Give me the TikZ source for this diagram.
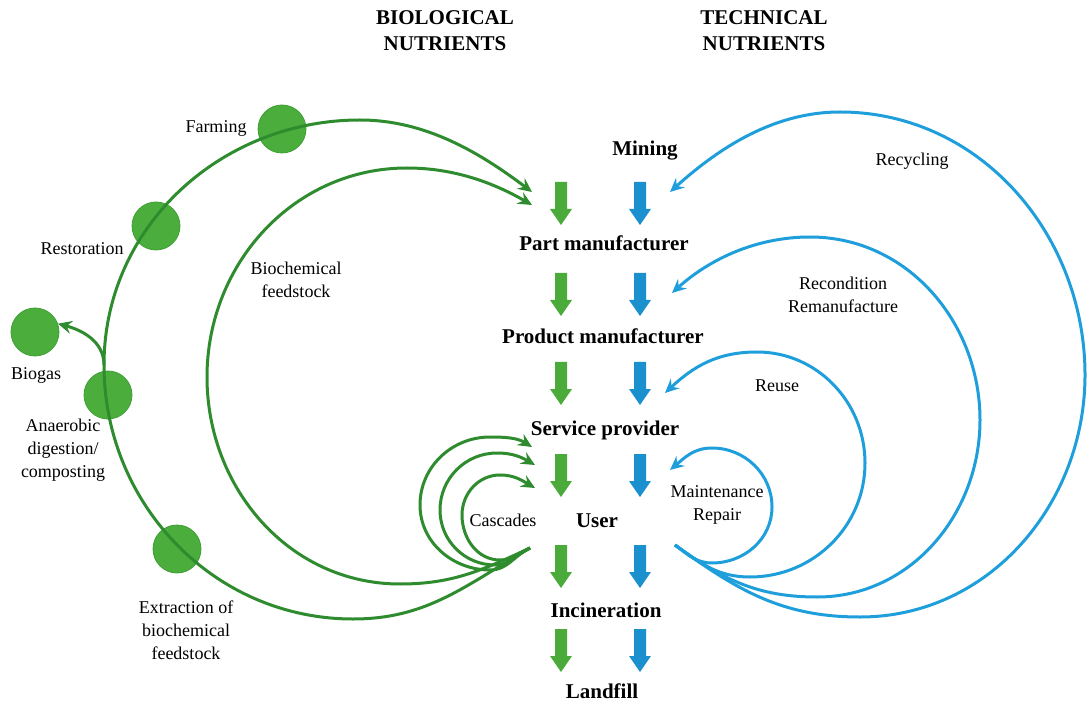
\documentclass[tikz,border=0pt]{standalone}
\usepackage{fontspec}
\setmainfont{Liberation Serif}
\usetikzlibrary{arrows.meta}
\definecolor{gline}{HTML}{2E8B2E}
\definecolor{gfill}{HTML}{4BAE3C}
\definecolor{gedge}{HTML}{3E9E34}
\definecolor{gblock}{HTML}{4AAA3A}
\definecolor{bline}{HTML}{1E9FDB}
\definecolor{bblock}{HTML}{1B90CF}
\begin{document}
\begin{tikzpicture}[x=1pt,y=1pt,
  flow/.style={line width=3pt, -{Stealth[length=14pt,width=13pt,inset=5pt]}},
  gflow/.style={flow, draw=gline},
  bflow/.style={flow, draw=bline},
  stage/.style={font=\fontsize{21}{25}\selectfont\bfseries, inner sep=0pt, anchor=base},
  head/.style={font=\fontsize{21}{26}\selectfont\bfseries, inner sep=0pt, align=center},
  lbl/.style={font=\fontsize{18}{23}\selectfont, inner sep=0pt, align=center},
  lblb/.style={lbl, anchor=base},
  dot/.style={circle, minimum size=48pt, inner sep=0pt, fill=gfill, draw=gedge, line width=0.8pt},
  blockarrow/.pic={\fill (-6,0) -- (6,0) -- (6,-27) -- (11,-27) -- (0,-43) -- (-11,-27) -- (-6,-27) -- cycle;}
]
\useasboundingbox (0,0) rectangle (1089,705);

% green circles
\node[dot] (farm) at (282,576) {};
\node[dot] (resto) at (156,479) {};
\node[dot] (biogas) at (35,373) {};
\node[dot] (anaer) at (108,310) {};
\node[dot] (extr) at (177,156) {};

% headers
\node[head] (bio) at (445,674) {BIOLOGICAL\\NUTRIENTS};
\node[head] (tech) at (764,674) {TECHNICAL\\NUTRIENTS};

% stages
\node[stage] (mining) at (645,549) {Mining};
\node[stage] (part) at (604,454) {Part manufacturer};
\node[stage] (prod) at (603,361) {Product manufacturer};
\node[stage] (serv) at (605,270) {Service provider};
\node[stage] (user) at (597,178) {User};
\node[stage] (incin) at (606,88) {Incineration};
\node[stage] (land) at (602,7) {Landfill};

% block arrows
\foreach \yy in {523,432,343,251,160,76}{
  \pic[color=gblock] at (561,\yy) {blockarrow};
  \pic[color=bblock] at (640,\yy) {blockarrow};
}

% labels
\node[lblb] (lfarm) at (216,572) {Farming};
\node[lblb] (lresto) at (82,450) {Restoration};
\node[lblb] (lbiogas) at (36,326) {Biogas};
\node[lbl] (lanaer) at (63,254.5) {Anaerobic\\digestion/\\composting};
\node[lbl] (lextr) at (186,74.5) {Extraction of\\biochemical\\feedstock};
\node[lbl] (lfeed) at (296,425.5) {Biochemical\\feedstock};
\node[lblb] (lcasc) at (503,179) {Cascades};
\node[lblb] (lrecyc) at (912,539) {Recycling};
\node[lbl] (lrecond) at (843,410.5) {Recondition\\Remanufacture};
\node[lblb] (lreuse) at (777,314) {Reuse};
\node[lbl] (lmaint) at (717,200.5) {Maintenance\\Repair};

% green waypoints
\coordinate (gS) at (530,157);
\coordinate (gB1) at (353,86);
\coordinate (gL1) at (104,340);
\coordinate (gT1) at (360,585);
\coordinate (gE1) at (532,513);
\coordinate (gB2) at (400,121);
\coordinate (gL2) at (207,328);
\coordinate (gT2) at (407,537);
\coordinate (gE2) at (532,500);
\coordinate (c1B) at (500,145);
\coordinate (c1L) at (462,190);
\coordinate (c1T) at (500,230);
\coordinate (c1E) at (535,217);
\coordinate (c2B) at (495,140);
\coordinate (c2L) at (440,195);
\coordinate (c2T) at (497,252);
\coordinate (c2E) at (535,240);
\coordinate (c3B) at (490,135);
\coordinate (c3L) at (420,200);
\coordinate (c3T) at (490,268);
\coordinate (c3E) at (532,258);

\draw[gflow] (gS) to[out=210,in=0] (gB1) to[out=180,in=-90] (gL1) to[out=90,in=180] (gT1) to[out=0,in=143,looseness=0.9] (gE1);
\draw[gflow] (gS) to[out=205,in=0] (gB2) to[out=180,in=-90] (gL2) to[out=90,in=180] (gT2) to[out=0,in=150,looseness=0.9] (gE2);
\draw[gflow] (gS) to[out=205,in=0] (c1B) to[out=180,in=-90] (c1L) to[out=90,in=180] (c1T) to[out=0,in=150] (c1E);
\draw[gflow] (gS) to[out=205,in=0] (c2B) to[out=180,in=-90] (c2L) to[out=90,in=180] (c2T) to[out=0,in=150] (c2E);
\draw[gflow] (gS) to[out=205,in=0] (c3B) to[out=180,in=-90] (c3L) to[out=90,in=180] (c3T) to[out=0,in=148] (c3E);
\draw[gflow] (gL1) to[out=90,in=-15] (biogas.20);

% blue waypoints
\coordinate (bS) at (675,160);
\coordinate (mB) at (712,142);
\coordinate (mR) at (772,198);
\coordinate (mT) at (712,257);
\coordinate (mE) at (670,235);
\coordinate (uB) at (750,128);
\coordinate (uR) at (865,242);
\coordinate (uT) at (757,353);
\coordinate (uE) at (665,312);
\coordinate (rB) at (817,108);
\coordinate (rR) at (980,285);
\coordinate (rT) at (810,468);
\coordinate (rE) at (672,412);
\coordinate (yB) at (860,88);
\coordinate (yR) at (1085,330);
\coordinate (yT) at (840,593);
\coordinate (yE) at (670,513);

\draw[bflow] (bS) to[out=-36,in=180] (mB) to[out=0,in=-90] (mR) to[out=90,in=0] (mT) to[out=180,in=40] (mE);
\draw[bflow] (bS) to[out=-36,in=180] (uB) to[out=0,in=-90] (uR) to[out=90,in=0] (uT) to[out=180,in=43] (uE);
\draw[bflow] (bS) to[out=-36,in=180] (rB) to[out=0,in=-90] (rR) to[out=90,in=0] (rT) to[out=180,in=42,looseness=0.9] (rE);
\draw[bflow] (bS) to[out=-36,in=180] (yB) to[out=0,in=-90] (yR) to[out=90,in=0] (yT) to[out=180,in=42,looseness=0.9] (yE);
\end{tikzpicture}
\end{document}
